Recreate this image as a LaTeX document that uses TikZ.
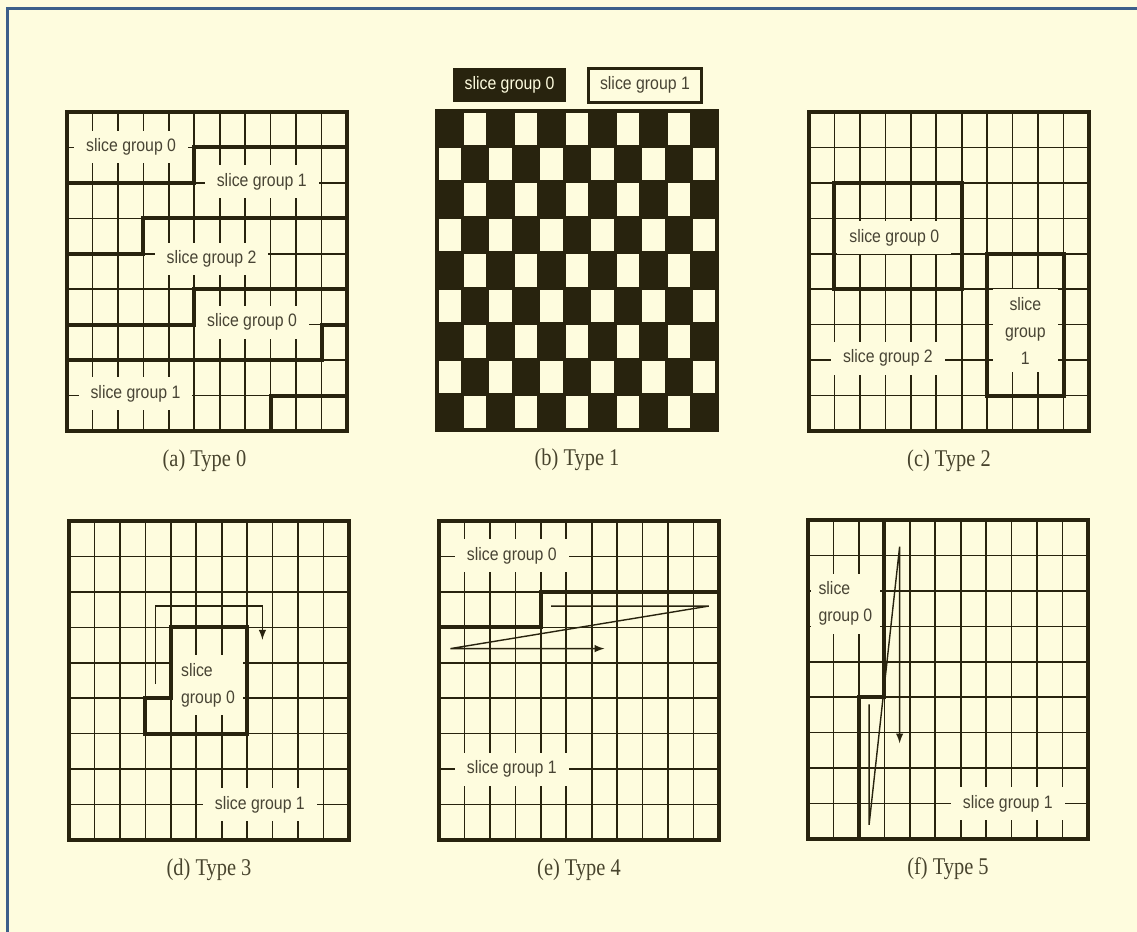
\documentclass[tikz,border=0pt]{standalone}
\usepackage{fontspec}
\setmainfont{Liberation Serif}
\setsansfont{Liberation Sans}
\newfontfamily\labelfont[FakeStretch=0.88]{Liberation Sans}
\newfontfamily\capfont[FakeStretch=0.85]{Liberation Serif}

\definecolor{bg}{RGB}{254,252,222}
\definecolor{ink}{RGB}{40,35,14}
\definecolor{labelink}{RGB}{72,68,52}
\definecolor{frameblue}{RGB}{60,95,138}

\tikzset{
  gridline/.style={ink, line width=0.8pt},
  bound/.style={ink, line width=2pt},
  panel/.style={ink, line width=2pt},
  sglabel/.style={fill=bg, text=labelink, font=\labelfont\fontsize{9}{13.5}\selectfont, inner xsep=6pt, inner ysep=4pt},
  sgkey/.style={font=\labelfont\fontsize{9}{10}\selectfont, minimum width=56.5pt, minimum height=17pt, inner sep=0pt},
  scan/.style={ink, line width=0.7pt},
  caption/.style={font=\capfont\fontsize{12}{14}\selectfont, text=ink!85!bg},
}

% thin 11x9 grid of one panel
\newcommand{\slicegrid}{%
  \foreach \gx in {1,...,10} \draw[gridline] (\gx,0) -- (\gx,9);
  \foreach \gy in {1,...,8} \draw[gridline] (0,\gy) -- (11,\gy);
}

\begin{document}
\begin{tikzpicture}[x=0.5pt, y=-0.5pt]
\useasboundingbox (0,0) rectangle (1137,932);
\fill[bg] (0,0) rectangle (1137,932);
\draw[frameblue, line width=1.5pt] (7,932) -- (7,8) -- (1137,8);

% (a) Type 0
\begin{scope}[shift={(67,112)}, x=12.727pt, y=-17.722pt]
\slicegrid
\node[sglabel] (a-g0) at (2.52,0.99) {slice group 0};
\node[sglabel] (a-g1) at (7.65,1.97) {slice group 1};
\node[sglabel] (a-g2) at (5.68,4.15) {slice group 2};
\node[sglabel] (a-g0b) at (7.27,5.93) {slice group 0};
\node[sglabel] (a-g1b) at (2.69,7.95) {slice group 1};
\draw[bound] (0,2) -- (5,2) -- (5,1) -- (11,1);
\draw[bound] (0,4) -- (3,4) -- (3,3) -- (11,3);
\draw[bound] (0,6) -- (5,6) -- (5,5) -- (11,5);
\draw[bound] (0,7) -- (10,7) -- (10,6) -- (11,6);
\draw[bound] (8,9) -- (8,8) -- (11,8);
\draw[panel] (0,0) rectangle (11,9);
\node[caption] (a-cap) at (5.4,9.85) {(a) Type 0};
\end{scope}

% (b) Type 1
\begin{scope}[shift={(437,111)}, x=12.727pt, y=-17.722pt]
\node[sgkey, fill=ink, text=bg] (b-key0) at (2.85,-0.73) {slice group 0};
\node[sgkey, draw=ink, line width=1.5pt, fill=bg, text=labelink] (b-key1) at (8.17,-0.73) {slice group 1};
\fill[ink] (0,0) rectangle (11,9);
\foreach \i in {0,...,10}
  \foreach \j in {0,...,8}{
    \pgfmathtruncatemacro{\cellodd}{mod(\i+\j,2)}
    \ifnum\cellodd=1 \fill[bg] (\i+0.06,\j+0.04) rectangle (\i+0.94,\j+0.96); \fi
  }
\draw[panel] (0,0) rectangle (11,9);
\node[caption] (b-cap) at (5.5,9.85) {(b) Type 1};
\end{scope}

% (c) Type 2
\begin{scope}[shift={(809,112)}, x=12.727pt, y=-17.722pt]
\slicegrid
\node[sglabel] (c-g0) at (3.35,3.55) {slice group 0};
\node[sglabel, align=center] (c-g1) at (8.5,6.17) {slice\\group\\1};
\node[sglabel] (c-g2) at (3.1,6.95) {slice group 2};
\draw[bound] (1,2) rectangle (6,5);
\draw[bound] (7,4) rectangle (10,8);
\draw[panel] (0,0) rectangle (11,9);
\node[caption] (c-cap) at (5.5,9.85) {(c) Type 2};
\end{scope}

% (d) Type 3
\begin{scope}[shift={(69,521)}, x=12.727pt, y=-17.722pt]
\slicegrid
\node[sglabel, align=left, inner xsep=4pt] (d-g0) at (5.46,4.63) {slice\\group 0};
\node[sglabel] (d-g1) at (7.5,8) {slice group 1};
\draw[bound] (4,3) -- (7,3) -- (7,6) -- (3,6) -- (3,5) -- (4,5) -- cycle;
\draw[scan, -latex] (3.4,4.6) -- (3.4,2.4) -- (7.6,2.4) -- (7.6,3.35);
\draw[panel] (0,0) rectangle (11,9);
\node[caption] (d-cap) at (5.5,9.85) {(d) Type 3};
\end{scope}

% (e) Type 4
\begin{scope}[shift={(439,521)}, x=12.727pt, y=-17.722pt]
\slicegrid
\node[sglabel] (e-g0) at (2.86,0.97) {slice group 0};
\node[sglabel] (e-g1) at (2.86,7) {slice group 1};
\draw[bound] (0,3) -- (4,3) -- (4,2) -- (11,2);
\draw[scan, -latex] (4.4,2.4) -- (10.6,2.4) -- (0.45,3.6) -- (6.5,3.6);
\draw[panel] (0,0) rectangle (11,9);
\node[caption] (e-cap) at (5.5,9.85) {(e) Type 4};
\end{scope}

% (f) Type 5
\begin{scope}[shift={(808,520)}, x=12.727pt, y=-17.722pt]
\slicegrid
\node[sglabel, align=left, inner xsep=4pt] (f-g0) at (1.47,2.36) {slice\\group 0};
\node[sglabel] (f-g1) at (7.85,8) {slice group 1};
\draw[bound] (3,0) -- (3,5) -- (2,5) -- (2,9);
\draw[scan, -latex] (2.4,5.2) -- (2.4,8.6) -- (3.6,0.75) -- (3.6,6.3);
\draw[panel] (0,0) rectangle (11,9);
\node[caption] (f-cap) at (5.5,9.85) {(f) Type 5};
\end{scope}
\end{tikzpicture}
\end{document}
